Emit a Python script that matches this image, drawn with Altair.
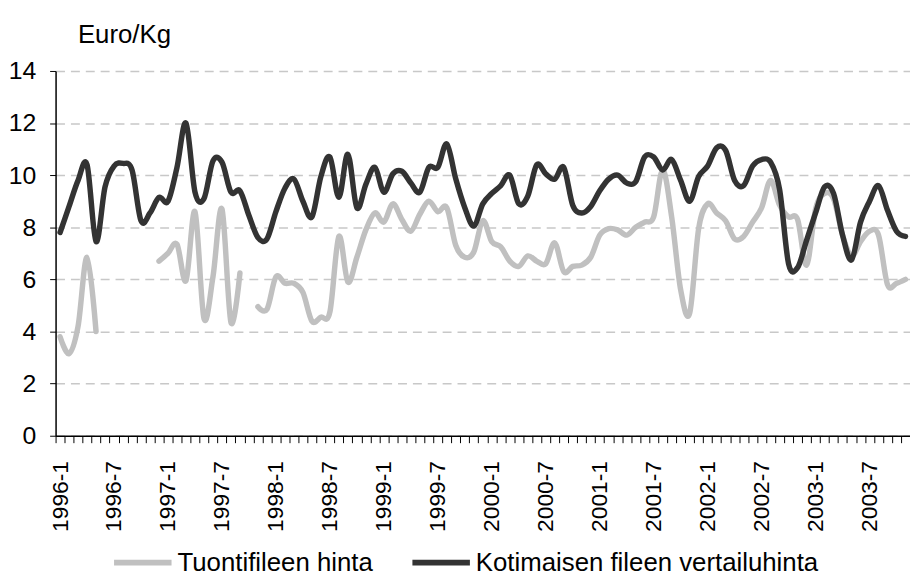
import altair as alt
import pandas as pd

# Categories: monthly, 1996-1 .. 2003-11
years = [1996, 1997, 1998, 1999, 2000, 2001, 2002, 2003]
months = [f"{y}-{m}" for y in years for m in range(1, 13)][:95]

import_name = "Tuontifileen hinta"
domestic_name = "Kotimaisen fileen vertailuhinta"

# Tuontifileen hinta (gaps = None)
import_price = [
    3.8, 3.15, 4.2, 6.85, 4.0, None, None, None, None, None, None, 6.7,
    7.0, 7.35, 5.95, 8.6, 4.5, 6.1, 8.7, 4.35, 6.25, None, 4.95, 4.85,
    6.1, 5.85, 5.85, 5.5, 4.4, 4.55, 4.75, 7.65, 5.9, 6.85, 7.9, 8.55,
    8.2, 8.9, 8.3, 7.85, 8.5, 9.0, 8.6, 8.75, 7.3, 6.85, 7.05, 8.25,
    7.45, 7.25, 6.7, 6.5, 6.9, 6.7, 6.6, 7.4, 6.3, 6.5, 6.55, 6.85,
    7.7, 7.95, 7.9, 7.7, 8.0, 8.2, 8.4, 10.2, 8.4, 5.6, 4.7, 7.95,
    8.9, 8.55, 8.25, 7.55, 7.65, 8.2, 8.75, 9.8, 8.85, 8.4, 8.3, 6.55,
    8.7, 9.3, 9.1, 7.7, 6.9, 7.45, 7.85, 7.7, 5.8, 5.85, 6.0,
]

# Kotimaisen fileen vertailuhinta
domestic_price = [
    7.8, 8.8, 9.8, 10.4, 7.45, 9.55, 10.35, 10.45, 10.2, 8.25, 8.55, 9.15,
    9.0, 10.3, 12.0, 9.35, 9.1, 10.55, 10.5, 9.35, 9.4, 8.45, 7.6, 7.55,
    8.6, 9.5, 9.85, 9.0, 8.4, 9.95, 10.7, 9.15, 10.8, 8.75, 9.65, 10.3,
    9.35, 10.05, 10.15, 9.7, 9.35, 10.3, 10.3, 11.2, 9.85, 8.75, 8.05, 8.9,
    9.3, 9.6, 10.0, 8.9, 9.2, 10.4, 10.05, 9.85, 10.3, 8.85, 8.55, 8.8,
    9.4, 9.85, 10.0, 9.7, 9.75, 10.7, 10.7, 10.2, 10.6, 9.8, 9.0, 9.95,
    10.35, 11.05, 10.95, 9.8, 9.6, 10.35, 10.6, 10.5, 9.45, 6.6, 6.45, 7.5,
    8.55, 9.55, 9.3, 7.7, 6.75, 8.2, 9.0, 9.6, 8.65, 7.85, 7.65,
]

y_ticks = [0, 2, 4, 6, 8, 10, 12, 14]

rows = []
seg = 0
prev_none = False
for m, v in zip(months, import_price):
    if v is None:
        if not prev_none:
            seg += 1
        prev_none = True
        continue
    prev_none = False
    rows.append({"month": m, "value": v, "series": import_name, "seg": f"i{seg}"})
for m, v in zip(months, domestic_price):
    rows.append({"month": m, "value": v, "series": domestic_name, "seg": "d"})
df = pd.DataFrame(rows)

W, H = 862, 368
step = W / len(months)
FONT = "Liberation Sans"

x_enc = alt.X(
    "month:O",
    sort=months,
    scale=alt.Scale(type="point", domain=months, padding=0.5),
    axis=alt.Axis(
        title=None,
        domainColor="black",
        domainWidth=1.5,
        tickColor="black",
        tickWidth=1,
        tickSize=7,
        tickOffset=-step / 2,
        labelOffset=step / 2,
        labelAngle=270,
        labelAlign="right",
        labelBaseline="middle",
        labelPadding=18,
        labelFontSize=23,
        labelColor="black",
        labelFont=FONT,
        labelOverlap=False,
        labelExpr="(split(datum.value,'-')[1]=='1' || split(datum.value,'-')[1]=='7') ? datum.value : ''",
        grid=False,
    ),
)

y_enc = alt.Y(
    "value:Q",
    scale=alt.Scale(domain=[0, 14], nice=False, zero=True),
    axis=alt.Axis(
        values=y_ticks,
        title="Euro/Kg",
        titleAngle=0,
        titleX=22,
        titleY=-37,
        titleAlign="left",
        titleBaseline="middle",
        titleFontSize=26,
        titleFontWeight="normal",
        titleFont=FONT,
        titleColor="black",
        grid=True,
        gridDash=[9, 6],
        gridColor="#c8c8c8",
        gridWidth=1.5,
        domainColor="black",
        domainWidth=1.5,
        tickColor="black",
        tickSize=6,
        labelFontSize=25,
        labelPadding=14,
        labelColor="black",
        labelFont=FONT,
    ),
)

color_enc = alt.Color(
    "series:N",
    scale=alt.Scale(domain=[import_name, domestic_name], range=["#c0c0c0", "#333333"]),
    legend=alt.Legend(
        orient="none",
        legendX=56,
        legendY=464,
        direction="horizontal",
        title=None,
        symbolType="stroke",
        symbolSize=3364,
        symbolStrokeWidth=6,
        labelFontSize=26,
        labelFont=FONT,
        labelColor="black",
        labelOffset=3,
        columnPadding=27,
        labelLimit=600,
    ),
)

base = alt.Chart(df).encode(x=x_enc, y=y_enc, color=color_enc, detail="seg:N")

gray = base.transform_filter(alt.datum.series == import_name).mark_line(
    strokeWidth=5.5, strokeJoin="round", strokeCap="round", interpolate="cardinal"
)
dark = base.transform_filter(alt.datum.series == domestic_name).mark_line(
    strokeWidth=5.5, strokeJoin="round", strokeCap="round", interpolate="cardinal"
)

chart = (
    alt.layer(gray, dark)
    .properties(
        width=W,
        height=H,
        autosize=alt.AutoSizeParams(type="none"),
        padding={"left": 48, "top": 61, "right": 0, "bottom": 139},
    )
    .configure(font=FONT)
    .configure_view(stroke=None)
)

chart.save("out.html", embed_options={"renderer": "svg", "actions": False})
